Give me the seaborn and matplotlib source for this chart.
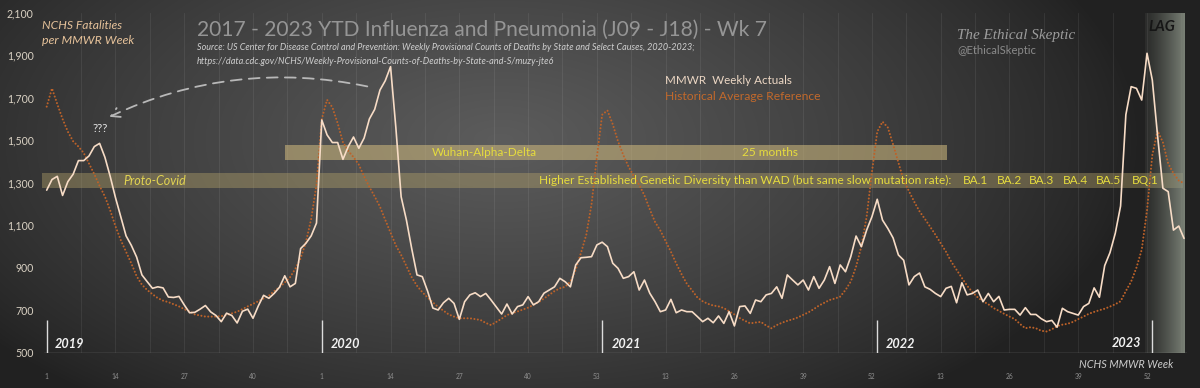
import numpy as np
import pandas as pd
import matplotlib
matplotlib.use("Agg")
import matplotlib.pyplot as plt
import seaborn as sns
from matplotlib.patches import Rectangle, FancyArrowPatch

# ---------------- data ----------------
year_labels = ["2019", "2020", "2021", "2022", "2023"]

actual_2019 = [1265, 1315, 1330, 1240, 1305, 1340, 1404, 1404, 1426, 1470, 1485, 1420, 1330,
               1230, 1140, 1050, 1005, 950, 866, 834, 803, 810, 805, 762, 760, 765, 725, 688,
               690, 705, 722, 692, 675, 646, 686, 675, 640, 695, 705, 662, 720, 770, 756, 779,
               808, 862, 810, 826, 990, 1015, 1050, 1110]
actual_2020 = [1595, 1525, 1489, 1489, 1410, 1470, 1515, 1462, 1510, 1600, 1645, 1736, 1780,
               1846, 1560, 1234, 1124, 990, 866, 858, 790, 710, 701, 735, 756, 732, 657, 740,
               772, 782, 764, 779, 748, 715, 682, 729, 682, 717, 725, 764, 725, 740, 780, 795,
               810, 850, 834, 810, 913, 947, 949, 952, 1007]
actual_2021 = [1020, 999, 921, 897, 850, 858, 881, 795, 842, 780, 740, 693, 701, 751, 688, 701,
               693, 693, 670, 646, 662, 641, 673, 638, 693, 626, 717, 720, 685, 748, 740, 772,
               779, 810, 756, 866, 842, 819, 842, 795, 858, 803, 842, 905, 826, 913, 881, 952,
               1049, 999, 1077, 1140]
actual_2022 = [1222, 1124, 1085, 1040, 960, 935, 819, 858, 875, 810, 798, 779, 764, 803, 812,
               735, 829, 772, 779, 795, 740, 779, 740, 765, 701, 704, 704, 677, 712, 680, 680,
               660, 646, 652, 620, 709, 693, 685, 677, 717, 732, 805, 761, 910, 971, 1062, 1190,
               1620, 1752, 1744, 1689, 1909]
actual_2023 = [1783, 1520, 1274, 1258, 1077, 1096, 1038]

hist_2019 = [1658, 1744, 1670, 1600, 1540, 1495, 1470, 1440, 1390, 1340, 1285, 1235, 1170, 1095,
             1030, 975, 920, 860, 820, 795, 775, 757, 745, 738, 728, 718, 705, 695, 680, 675,
             670, 670, 670, 672, 677, 685, 693, 705, 718, 730, 742, 755, 768, 790, 808, 830,
             855, 895, 945, 1020, 1130, 1290]
hist_2020 = [1600, 1690, 1655, 1580, 1490, 1450, 1420, 1385, 1330, 1280, 1235, 1187, 1125, 1065,
             1005, 960, 907, 855, 815, 785, 760, 737, 715, 698, 680, 670, 662, 662, 662, 658,
             654, 640, 630, 645, 660, 677, 686, 694, 703, 712, 725, 738, 755, 772, 790, 803,
             810, 835, 890, 970, 1055, 1200, 1420]
hist_2021 = [1620, 1640, 1575, 1495, 1430, 1375, 1330, 1290, 1240, 1175, 1115, 1075, 1025, 975,
             920, 870, 825, 793, 760, 742, 730, 722, 718, 710, 695, 680, 663, 650, 638, 642,
             645, 628, 615, 630, 641, 650, 657, 666, 678, 690, 705, 722, 735, 748, 755, 764,
             795, 835, 905, 1000, 1140, 1350]
hist_2022 = [1540, 1587, 1560, 1480, 1395, 1310, 1260, 1210, 1165, 1130, 1093, 1055, 1015, 975,
             928, 890, 852, 815, 785, 760, 742, 728, 710, 697, 683, 670, 658, 635, 615, 620,
             615, 603, 600, 610, 625, 632, 636, 645, 658, 670, 683, 692, 700, 707, 717, 728,
             742, 790, 835, 900, 985, 1170]
hist_2023 = [1430, 1545, 1490, 1390, 1344, 1310, 1297]

y_ticks = list(range(500, 2101, 200))

actual_years = [actual_2019, actual_2020, actual_2021, actual_2022, actual_2023]
hist_years = [hist_2019, hist_2020, hist_2021, hist_2022, hist_2023]
actual = sum(actual_years, [])
hist = sum(hist_years, [])
week_of_year = sum([list(range(1, len(a) + 1)) for a in actual_years], [])
idx = np.arange(1, len(actual) + 1)
year_start = np.cumsum([0] + [len(a) for a in actual_years[:-1]]) + 1

df = pd.DataFrame({"idx": idx, "actual": actual, "hist": hist, "week": week_of_year})
tick_pos = idx[::13]
tick_lab = [str(week_of_year[p - 1]) for p in tick_pos]

# ---------------- figure ----------------
sns.set_theme(style="dark")
plt.rcParams["font.family"] = ["Lato", "DejaVu Sans"]

W, H = 1200, 388
fig = plt.figure(figsize=(12, 3.88), dpi=100)

# background gradient
bg = fig.add_axes([0, 0, 1, 1], zorder=0)
yy, xx = np.mgrid[0:H, 0:W]
r = np.sqrt(((xx - 500) / 640.0) ** 2 + ((yy - 140) / 330.0) ** 2)
v = 33 + (92 - 33) * np.clip(1 - r, 0, 1) ** 0.8
img = np.dstack([v, v, v]) / 255.0
bg.imshow(img, aspect="auto", extent=(0, W, H, 0))
bg.set_xlim(0, W); bg.set_ylim(H, 0)
bg.axis("off")

px_unit = 5.29
left_px = 46.7 - 0.5 * px_unit
width_px = 216 * px_unit
top_px, bot_px = 12.7, 352.7
ax = fig.add_axes([left_px / W, (H - bot_px) / H, width_px / W, (bot_px - top_px) / H], zorder=1)
ax.set_facecolor("none")
for s in ax.spines.values():
    s.set_visible(False)

# vertical gridlines
for g in np.arange(7.5, 216, 6.5):
    ax.axvline(g, color="white", alpha=0.07, lw=0.8, zorder=1)
ax.axhline(500, color="#6e6e6e", lw=1.0, zorder=1)

# annotation bands
ax.add_patch(Rectangle((0.05, 1274), 215.75, 70, facecolor="#b8a66c", alpha=0.40,
                       edgecolor="none", zorder=2, clip_on=False))
ax.add_patch(Rectangle((46.05, 1407), 125.15, 70, facecolor="#cbb67c", alpha=0.58,
                       edgecolor="none", zorder=2))

# LAG band
ramp = np.linspace(0, 1, 200)
lag = np.zeros((2, 200, 4))
lag[..., 0] = 0.56; lag[..., 1] = 0.59; lag[..., 2] = 0.54
lag[..., 3] = 0.10 + 0.72 * ramp ** 1.3
ax.imshow(lag, extent=(208.65, 216.05, 500, 2100), aspect="auto", zorder=2)

# lines
sns.lineplot(data=df, x="idx", y="hist", ax=ax, color="#bd6229", linewidth=1.5,
             zorder=3, legend=False)
hl = ax.get_lines()[-1]
hl.set_dashes([0.01, 1.65])
hl.set_dash_capstyle("round")
sns.lineplot(data=df, x="idx", y="actual", ax=ax, color="#f7dcc6", linewidth=1.2,
             zorder=4, legend=False)

# year separators
for ys in year_start:
    ax.plot([ys, ys], [500, 654], color="#dcdcdc", lw=1.0, zorder=4, solid_capstyle="butt")

ax.set_xlim(0.5, 216.5)
ax.set_ylim(500, 2100)
ax.set_yticks(y_ticks)
ax.set_yticklabels([f"{t:,}" for t in y_ticks])
ax.set_xticks(tick_pos)
ax.set_xticklabels(tick_lab)
ax.tick_params(axis="y", length=0, pad=7.5, labelsize=7.6, labelcolor="#d9d1c3")
ax.tick_params(axis="x", length=0, pad=14.5, labelsize=4.8, labelcolor="#8e8e8e")
ax.set_xlabel(""); ax.set_ylabel("")
ax.grid(False)

# ---------------- text ----------------
renderer = fig.canvas.get_renderer()

def T(x, y, s, w=None, ha="left", **kw):
    t = fig.text(x / W, 1 - y / H, s, ha=ha, va="center", zorder=6, **kw)
    if w is not None:
        bb = t.get_window_extent(renderer)
        if bb.width > 0:
            t.set_fontsize(t.get_fontsize() * w / bb.width)
    return t

T(197, 30, "2017 - 2023 YTD Influenza and Pneumonia (J09 - J18) - Wk 7", w=571,
  color="#959595", fontsize=18)
T(197, 48, "Source: US Center for Disease Control and Prevention: Weekly Provisional Counts of "
  "Deaths by State and Select Causes, 2020-2023;", w=500, color="#cfcfcf", fontsize=7, style="italic")
T(197, 61, "https://data.cdc.gov/NCHS/Weekly-Provisional-Counts-of-Deaths-by-State-and-S/muzy-jte6",
  w=355, color="#cfcfcf", fontsize=7, style="italic")
T(41.7, 25.7, "NCHS Fatalities", w=80, color="#e6c29a", fontsize=10, style="italic")
T(41.7, 41, "per MMWR Week", w=93, color="#e6c29a", fontsize=10, style="italic")
T(665, 80, "MMWR  Weekly Actuals", w=127, color="#ecd7c4", fontsize=9)
T(665, 96, "Historical Average Reference", w=156, color="#c2692c", fontsize=9)
T(957, 35, "The Ethical Skeptic", w=118, color="#9c9c9c", fontsize=11, style="italic",
  family=["Liberation Serif", "DejaVu Serif"])
T(957, 50, "@EthicalSkeptic", w=80, color="#8a8a8a", fontsize=8)
T(1148, 27, "LAG", w=27, color="#161616", fontsize=11, fontweight="bold", style="italic")
T(93, 128, "???", w=15, color="#e4e4e4", fontsize=9)

band_yellow = "#e6dc3e"
T(123, 181, "Proto-Covid", w=63, color="#e2d452", fontsize=9, style="italic")
T(431.7, 152.7, "Wuhan-Alpha-Delta", w=105, color=band_yellow, fontsize=9)
T(741.7, 152.7, "25 months", w=56, color=band_yellow, fontsize=9)
ht = T(539, 180, "Higher Established Genetic Diversity than WAD (but same slow mutation rate):",
       w=416, color=band_yellow, fontsize=9)
fs = ht.get_fontsize()
for xb, lab in zip([962.7, 996.7, 1029, 1063, 1096, 1131.7],
                   ["BA.1", "BA.2", "BA.3", "BA.4", "BA.5", "BQ.1"]):
    T(xb, 180, lab, color=band_yellow, fontsize=fs)

year_x = [55, 331, 611.5, 886]
for xl, lab in zip(year_x, year_labels[:4]):
    T(xl, 344, lab, w=29, color="#f2f2f2", fontsize=10, fontweight="bold", style="italic")
T(1141.5, 343, year_labels[4], w=29, ha="right", color="#f2f2f2", fontsize=10,
  fontweight="bold", style="italic")
T(1173, 364, "NCHS MMWR Week", w=95, ha="right", color="#cdcdcd", fontsize=8, style="italic")

# dashed curved arrow
arr = FancyArrowPatch((370 / W, 1 - 87 / H), (107 / W, 1 - 118 / H),
                      transform=fig.transFigure, connectionstyle="arc3,rad=0.17",
                      arrowstyle="->,head_length=6,head_width=3.5", linestyle=(0, (6, 4)),
                      color="#b8b8b8", lw=1.3, zorder=6)
fig.patches.append(arr)

fig.savefig("out.png", dpi=100)
